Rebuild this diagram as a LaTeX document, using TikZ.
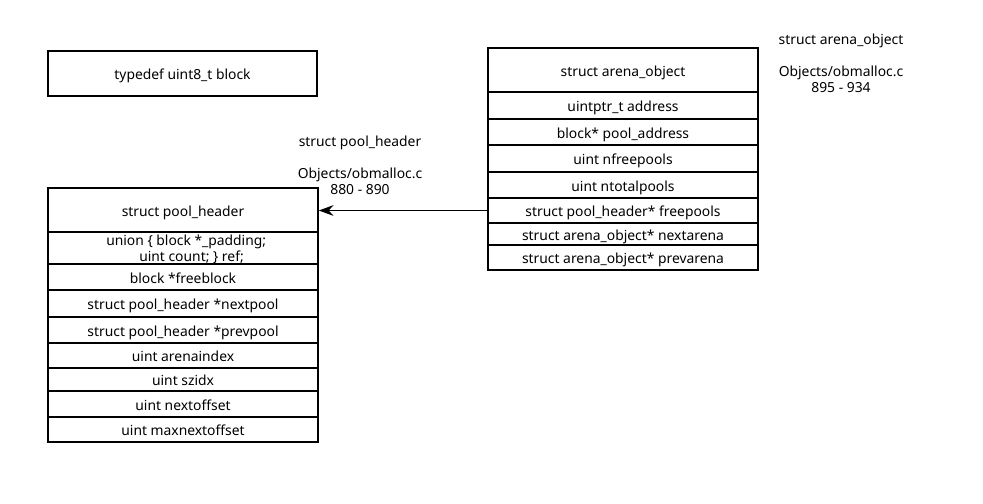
\documentclass[tikz,border=0pt]{standalone}
\usepackage{fontspec}
\setmainfont{Noto Sans}
\usetikzlibrary{arrows.meta}

\tikzset{
  field/.style={draw, line width=1.2pt, inner sep=0pt, minimum width=202.5pt,
    text height=1.9ex, text depth=0.2ex, font=\fontsize{10.4}{12}\selectfont},
  label/.style={align=center, inner sep=0pt, font=\fontsize{10.4}{12}\selectfont},
}

\begin{document}
\begin{tikzpicture}[x=0.75pt,y=-0.75pt]
        \useasboundingbox (0,0) rectangle (983,504);
        % typedef
        \node[field, minimum width=201.75pt, minimum height=33.75pt] (blk) at (182.5,73.5) {typedef uint8\_t block};
        % struct pool_header
        \node[field, minimum height=33pt] (ph0) at (183,210) {struct pool\_header};
        \node[field, minimum height=24pt] (ph1) at (183,248) {};
        \node[label, anchor=west, align=left] (ph1txt) at (106,249.5) {union \{ block *\_padding;\\\hspace*{24.75pt}uint count; \} ref;};
        \node[field, minimum height=19.5pt] (ph2) at (183,277) {block *freeblock};
        \node[field, minimum height=20.25pt] (ph3) at (183,303.5) {struct pool\_header *nextpool};
        \node[field, minimum height=19.5pt] (ph4) at (183,330) {struct pool\_header *prevpool};
        \node[field, minimum height=18.75pt] (ph5) at (183,355.5) {uint arenaindex};
        \node[field, minimum height=17.25pt] (ph6) at (183,379.5) {uint szidx};
        \node[field, minimum height=19.5pt] (ph7) at (183,404) {uint nextoffset};
        \node[field, minimum height=18.75pt] (ph8) at (183,429.5) {uint maxnextoffset};
        % struct arena_object
        \node[field, minimum height=33pt] (ao0) at (623,70) {struct arena\_object};
        \node[field, minimum height=20.25pt] (ao1) at (623,105.5) {uintptr\_t address};
        \node[field, minimum height=19.5pt] (ao2) at (623,132) {block* pool\_address};
        \node[field, minimum height=20.25pt] (ao3) at (623,158.5) {uint nfreepools};
        \node[field, minimum height=19.5pt] (ao4) at (623,185) {uint ntotalpools};
        \node[field, minimum height=18.75pt] (ao5) at (623,210.5) {struct pool\_header* freepools};
        \node[field, minimum height=16.5pt] (ao6) at (623,234) {struct arena\_object* nextarena};
        \node[field, minimum height=18.75pt] (ao7) at (623,257.5) {struct arena\_object* prevarena};
        % freepools -> pool_header
        \draw[line width=1.3pt, -{Stealth[length=11pt,width=8pt]}] (ao5.west) -- (ao5.west -| ph0.east);
        % source notes
        \node[label] (phsrc) at (360,165) {struct pool\_header\\[12pt]Objects/obmalloc.c\\880 - 890};
        \node[label] (aosrc) at (841,63) {struct arena\_object\\[12pt]Objects/obmalloc.c\\895 - 934};
      \end{tikzpicture}
\end{document}
